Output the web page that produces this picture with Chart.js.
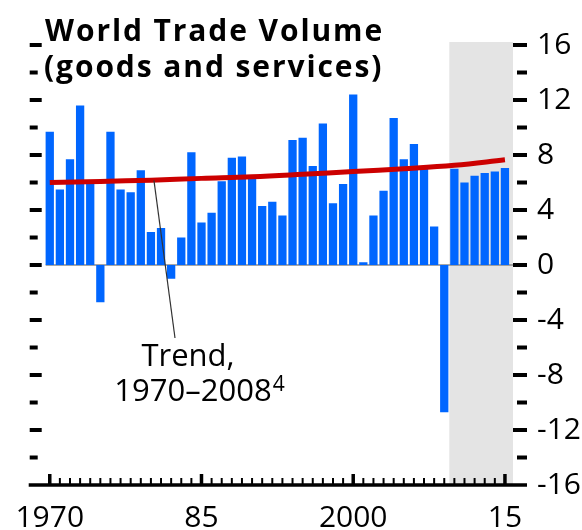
<!DOCTYPE html>
<html>
<head>
<meta charset="utf-8">
<script src="https://cdn.jsdelivr.net/npm/chart.js@4.4.1/dist/chart.umd.min.js"></script>
<style>
  html, body { margin:0; padding:0; background:#fff; }
  #wrap { width:582px; height:530px; }
</style>
</head>
<body>
<div id="wrap"><canvas id="grafico" width="582" height="530"></canvas></div>
<script>
// ---------------- Dados ----------------
const anos = ['1970','1971','1972','1973','1974','1975','1976','1977','1978','1979',
              '1980','1981','1982','1983','1984','1985','1986','1987','1988','1989',
              '1990','1991','1992','1993','1994','1995','1996','1997','1998','1999',
              '2000','2001','2002','2003','2004','2005','2006','2007','2008','2009',
              '2010','2011','2012','2013','2014','2015'];

const volume = [9.7, 5.5, 7.7, 11.6, 6.0, -2.7, 9.7, 5.5, 5.3, 6.9,
                2.4, 2.7, -1.0, 2.0, 8.2, 3.1, 3.8, 6.1, 7.8, 7.9,
                6.3, 4.3, 4.6, 3.6, 9.1, 9.25, 7.2, 10.3, 4.5, 5.9,
                12.4, 0.2, 3.6, 5.4, 10.7, 7.7, 8.8, 7.2, 2.8, -10.7,
                7.0, 6.0, 6.5, 6.7, 6.8, 7.05];

const trendAnos = ['1970','1975','1980','1985','1990','1995','2000','2005','2010','2015'];
const trendValores = [6.0, 6.08, 6.17, 6.3, 6.42, 6.6, 6.8, 7.0, 7.25, 7.65];

const inicioProjecao = '2010';

const xLabelAnos = ['1970','1985','2000','2015'];
const xLabelTexto = ['1970','85','2000','15'];

const yMarcas = [16, 14, 12, 10, 8, 6, 4, 2, 0, -2, -4, -6, -8, -10, -12, -14];

Chart.defaults.font.family = '"Open Sans", sans-serif';
Chart.defaults.color = '#000';

// ---------------- Decoração ----------------
const decor = {
    id: 'decor',
    beforeDatasetsDraw(chart) {
        const { ctx, chartArea: a, scales: { x, y } } = chart;
        const passo = x.getPixelForValue(1) - x.getPixelForValue(0);
        const x0 = x.getPixelForValue(anos.indexOf(inicioProjecao)) - passo / 2;
        const yTop = y.getPixelForValue(16) - 3;
        const yBot = y.getPixelForValue(-16);
        ctx.save();
        ctx.fillStyle = '#e4e4e4';
        ctx.fillRect(x0, yTop, a.right + 3 - x0, yBot - yTop);
        // linha do zero
        const y0 = y.getPixelForValue(0);
        ctx.strokeStyle = '#8a8a8a';
        ctx.lineWidth = 1.5;
        ctx.beginPath();
        ctx.moveTo(a.left + 1, y0);
        ctx.lineTo(a.right + 15, y0);
        ctx.stroke();
        ctx.restore();
    },
    afterDraw(chart) {
        const { ctx, chartArea: a, scales: { x, y } } = chart;
        const yEixo = y.getPixelForValue(-16);
        ctx.save();
        ctx.strokeStyle = '#000';

        // eixo x
        ctx.lineWidth = 3.5;
        ctx.beginPath();
        ctx.moveTo(a.left - 16, yEixo);
        ctx.lineTo(a.right + 17, yEixo);
        ctx.stroke();

        anos.forEach((ano, i) => {
            const px = x.getPixelForValue(i);
            const alto = xLabelAnos.includes(ano);
            ctx.lineWidth = alto ? 3.5 : 2;
            ctx.beginPath();
            ctx.moveTo(px, yEixo);
            ctx.lineTo(px, yEixo - (alto ? 11 : 7));
            ctx.stroke();
        });

        // marcas do eixo y (esquerda e direita)
        ctx.lineWidth = 4;
        yMarcas.forEach(v => {
            const py = y.getPixelForValue(v);
            const maior = v % 4 === 0;
            ctx.beginPath();
            ctx.moveTo(a.left - 15, py);
            ctx.lineTo(a.left - (maior ? 3 : 7), py);
            ctx.moveTo(a.right + (maior ? 3 : 7), py);
            ctx.lineTo(a.right + 17, py);
            ctx.stroke();
        });

        // seta da tendência
        ctx.strokeStyle = '#333';
        ctx.lineWidth = 1.2;
        ctx.beginPath();
        ctx.moveTo(x.getPixelForValue(10.3), y.getPixelForValue(6.15));
        ctx.lineTo(175, 338);
        ctx.stroke();

        // título
        ctx.fillStyle = '#000';
        ctx.textAlign = 'left';
        ctx.textBaseline = 'alphabetic';
        ctx.font = 'bold 30px "Open Sans"';
        ctx.letterSpacing = '1.9px';
        ctx.fillText('World Trade Volume', 45, 41);
        ctx.fillText('(goods and services)', 44, 77);
        ctx.letterSpacing = '0px';

        // anotação
        ctx.font = '31px "Open Sans"';
        ctx.textAlign = 'center';
        ctx.fillText('Trend,', 188, 366);
        ctx.fillText('1970\u20132008', 193, 401);
        const w = ctx.measureText('1970\u20132008').width;
        ctx.textAlign = 'left';
        ctx.font = '21px "Open Sans"';
        ctx.fillText('4', 193 + w / 2 + 1, 391);
        ctx.restore();
    }
};

// ---------------- Gráfico ----------------
new Chart(document.getElementById('grafico'), {
    type: 'bar',
    data: {
        labels: anos,
        datasets: [
            {
                type: 'line',
                label: 'Trend',
                data: trendAnos.map((a, i) => ({ x: a, y: trendValores[i] })),
                borderColor: '#cc0000',
                borderWidth: 5,
                pointRadius: 0,
                tension: 0.4,
                order: 0
            },
            {
                label: 'World trade volume',
                data: volume,
                backgroundColor: '#0066ff',
                borderWidth: 0,
                barPercentage: 0.82,
                categoryPercentage: 1,
                order: 1
            }
        ]
    },
    options: {
        responsive: false,
        animation: false,
        layout: { padding: { left: 42, top: 41, right: 0, bottom: 0 } },
        plugins: { legend: { display: false }, tooltip: { enabled: false } },
        scales: {
            x: {
                grid: { display: false, drawTicks: false },
                border: { display: false },
                afterFit: s => { s.height = 43; },
                ticks: {
                    autoSkip: false,
                    maxRotation: 0,
                    padding: 15,
                    font: { size: 30 },
                    callback: (v, i) => {
                        const k = xLabelAnos.indexOf(anos[i]);
                        return k >= 0 ? xLabelTexto[k] : '';
                    }
                }
            },
            y: {
                position: 'right',
                min: -16,
                max: 16,
                grid: { display: false, drawTicks: false },
                border: { display: false },
                afterFit: s => { s.width = 72; },
                ticks: {
                    stepSize: 4,
                    padding: 27,
                    font: { size: 30 },
                    callback: v => String(v)
                }
            }
        }
    },
    plugins: [decor]
});
</script>
</body>
</html>
